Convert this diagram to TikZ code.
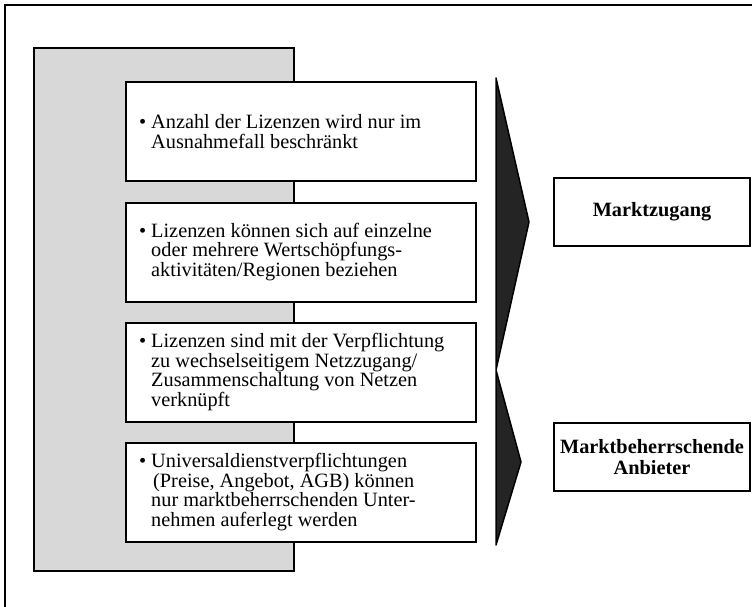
\documentclass[tikz,border=0pt]{standalone}
\usepackage{fontspec}
\setmainfont{Liberation Serif}
\usepackage{xcolor}
\usepackage{tikz}
\usetikzlibrary{positioning, calc}

\definecolor{hellgrau}{RGB}{216,216,216}
\definecolor{dunkelgrau}{RGB}{36,36,36}

\tikzset{
  kasten/.style={draw=black, line width=2pt, fill=white, minimum width=350pt, minimum height=99pt, inner sep=0pt},
  inhalt/.style={align=left, inner sep=0pt, font=\fontsize{20.3}{19.7}\selectfont},
  ziel/.style={draw=black, line width=2pt, fill=white, align=center, inner sep=0pt,
    minimum width=196pt, minimum height=68pt, font=\fontsize{20.3}{21.5}\selectfont\bfseries},
}

\begin{document}
\begin{tikzpicture}[x=1pt, y=-1pt]
      \useasboundingbox (0,0) rectangle (752,607);
      % rahmen
      \draw[line width=2pt] (5,607) -- (5,5) -- (752,5);
      % grauer hintergrund
      \draw[line width=2pt, fill=hellgrau] (34,48) rectangle (294,571);

      % vier kaesten
      \node[kasten] (lizenzzahl) at (301,131.5) {};
      \node[kasten] (aktivitaet) at (301,252) {};
      \node[kasten] (netzzugang) at (301,372) {};
      \node[kasten] (universal) at (301,492) {};

      \node[inhalt, right=26pt of lizenzzahl.west] (tlizenzzahl)
        {\llap{•\hspace{5pt}}Anzahl der Lizenzen wird nur im\\Ausnahmefall beschränkt};
      \node[inhalt, right=26pt of aktivitaet.west] (taktivitaet)
        {\llap{•\hspace{5pt}}Lizenzen können sich auf einzelne\\oder mehrere Wertschöpfungs-\\aktivitäten/Regionen beziehen};
      \node[inhalt, right=26pt of netzzugang.west] (tnetzzugang)
        {\llap{•\hspace{5pt}}Lizenzen sind mit der Verpflichtung\\zu wechselseitigem Netzzugang/\\Zusammenschaltung von Netzen\\verknüpft};
      \node[inhalt, right=26pt of universal.west] (tuniversal)
        {\llap{•\hspace{5pt}}Universaldienstverpflichtungen\\\hspace*{2pt}(Preise, Angebot, AGB) können\\nur marktbeherrschenden Unter-\\nehmen auferlegt werden};

      % pfeile
      \draw[line width=1.5pt, line join=round, fill=dunkelgrau]
        (496,78) -- (529,222) -- (496,370) -- (521,462) -- (496,545) -- cycle;

      % ziele
      \node[ziel] (marktzugang) at (652,212) {Marktzugang};
      \node[ziel] (anbieter) at (652,457) {Marktbeherrschende\\Anbieter};
    \end{tikzpicture}
\end{document}
